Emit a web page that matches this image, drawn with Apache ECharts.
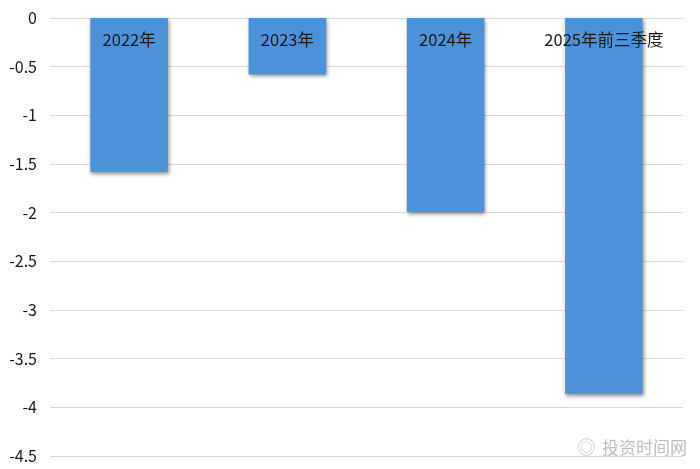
<!DOCTYPE html>
<html>
<head>
<meta charset="utf-8">
<script src="https://cdn.jsdelivr.net/npm/echarts@6/dist/echarts.min.js"></script>
<style>html,body{margin:0;padding:0;background:#fff}#c{width:700px;height:469px}</style>
</head>
<body>
<div id="c"></div>
<script>
const categories = ['2022年', '2023年', '2024年', '2025年前三季度'];
const values = [-1.58, -0.58, -1.99, -3.86];
const yTicks = { min: -4.5, max: 0, interval: 0.5 };

const chart = echarts.init(document.getElementById('c'));
const font = '"Noto Sans CJK SC", "Noto Sans", sans-serif';
chart.setOption({
  animation: false,
  grid: { left: 50, right: 17, top: 18, bottom: 13, containLabel: false },
  xAxis: {
    type: 'category',
    data: categories,
    position: 'top',
    z: 10,
    axisLine: { show: false },
    axisTick: { show: false },
    axisLabel: { inside: true, margin: 13, color: '#1a1a1a', fontSize: 16.5, fontFamily: font }
  },
  yAxis: {
    type: 'value',
    min: yTicks.min, max: yTicks.max, interval: yTicks.interval,
    axisLine: { show: false },
    axisTick: { show: false },
    axisLabel: { color: '#1a1a1a', fontSize: 16, fontFamily: font, margin: 13 },
    splitLine: { lineStyle: { color: '#d9d9d9', width: 1 } }
  },
  series: [{
    type: 'bar',
    data: values,
    barWidth: '49%',
    itemStyle: {
      color: '#4d92d8',
      shadowBlur: 4, shadowOffsetX: 1, shadowOffsetY: 2,
      shadowColor: 'rgba(0,0,0,0.45)'
    }
  }],
  graphic: [{
    type: 'text', right: 12, bottom: 12,
    style: {
      text: '投资时间网', fontSize: 17, fontFamily: font,
      fill: '#bdbdbd', stroke: '#ffffff', lineWidth: 2
    }
  }, {
    type: 'text', right: 104, bottom: 12,
    style: {
      text: '◎', fontSize: 18, fontFamily: font,
      fill: '#c4c4c4', stroke: '#ffffff', lineWidth: 1
    }
  }]
});
</script>
</body>
</html>
